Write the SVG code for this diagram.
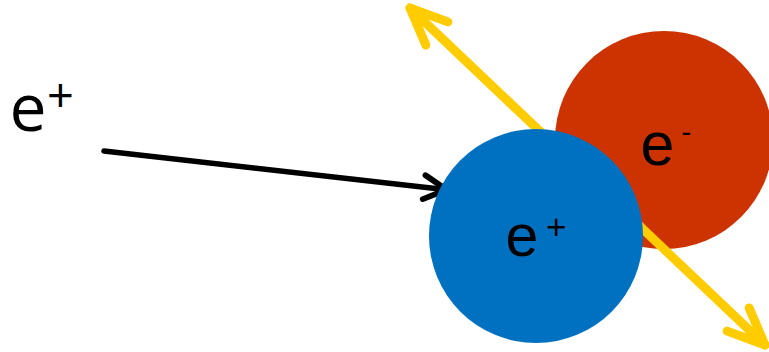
<svg xmlns="http://www.w3.org/2000/svg" width="769" height="352" viewBox="0 0 769 352">
  <style>
    .label { fill: #000000; }
    .sans { font-family: "Liberation Sans", Arial, sans-serif; }
    .soft { font-family: "Open Sans", "Liberation Sans", sans-serif; }
    .beam { fill: none; stroke: #FFCC00; stroke-width: 9; stroke-linecap: round; }
    .track { fill: none; stroke: #000000; stroke-width: 5.5; stroke-linecap: round; }
  </style>
  <defs>
    <!-- open chevron heads, drawn in user units -->
    <marker id="head-yellow" markerUnits="userSpaceOnUse" orient="auto-start-reverse"
            refX="0" refY="0" markerWidth="60" markerHeight="60" viewBox="-50 -30 60 60" overflow="visible">
      <path d="M -37,-16 L 0,0 L -37,16" fill="none" stroke="#FFCC00" stroke-width="9"
            stroke-linecap="round" stroke-linejoin="round"/>
    </marker>
    <marker id="head-black" markerUnits="userSpaceOnUse" orient="auto"
            refX="0" refY="0" markerWidth="40" markerHeight="40" viewBox="-30 -20 40 40" overflow="visible">
      <path d="M -22.5,-12 L 0,0 L -22.5,12" fill="none" stroke="#000000" stroke-width="5.8"
            stroke-linecap="round" stroke-linejoin="round"/>
    </marker>
  </defs>

  <rect x="0" y="0" width="769" height="352" fill="#FFFFFF"/>

  <!-- electron -->
  <g id="electron">
    <circle cx="664" cy="140" r="109" fill="#CC3300"/>
  </g>

  <!-- outgoing photon pair and incoming track -->
  <g id="connectors">
    <line class="beam" x1="410" y1="8" x2="765" y2="345"
          marker-start="url(#head-yellow)" marker-end="url(#head-yellow)"/>
    <line class="track" x1="104" y1="151" x2="446.5" y2="189.7" marker-end="url(#head-black)"/>
  </g>

  <!-- positron target -->
  <g id="positron">
    <circle cx="536" cy="236" r="107" fill="#0070C0"/>
  </g>

  <!-- labels -->
  <g id="incoming-label">
    <text class="label soft" x="9.5" y="131" font-size="66">e</text>
    <text class="label soft" x="47" y="112" font-size="47">+</text>
  </g>
  <g id="positron-label">
    <text class="label sans" x="505.6" y="256" font-size="59">e</text>
    <text class="label sans" x="546" y="239" font-size="35">+</text>
  </g>
  <g id="electron-label">
    <text class="label sans" x="640.6" y="164.5" font-size="61">e</text>
    <text class="label sans" x="681.5" y="142" font-size="29">-</text>
  </g>
</svg>
